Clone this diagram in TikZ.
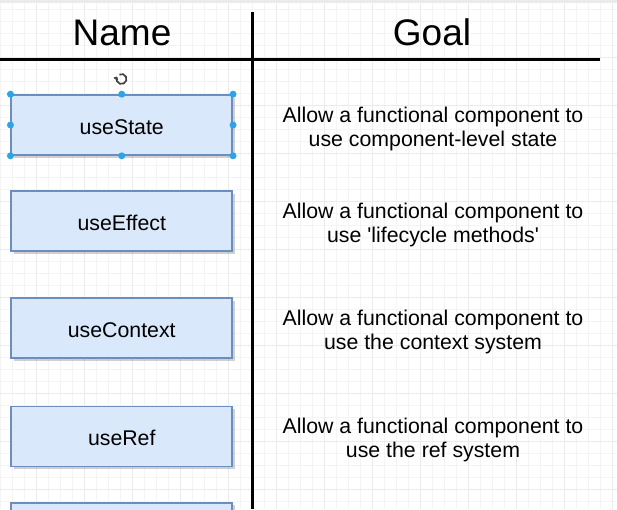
\documentclass[tikz,border=0pt]{standalone}
\usepackage{fontspec}
\setmainfont{Liberation Sans}[Ligatures=TeXOff]
\usetikzlibrary{shadows,arrows.meta}
\definecolor{boxfill}{HTML}{DAE8FC}
\definecolor{boxline}{HTML}{6C8EBF}
\definecolor{gridminor}{HTML}{F4F4F4}
\definecolor{gridmajor}{HTML}{EBEBEB}
\definecolor{handle}{HTML}{2DA3E8}
\definecolor{topband}{HTML}{EBEBEB}
\tikzset{
  hookbox/.style={rectangle, fill=boxfill, draw=boxline, line width=1.6pt,
    minimum width=221pt, minimum height=60pt, inner sep=0pt,
    text height=19pt, text depth=0pt,
    font=\fontsize{21.3}{24}\selectfont,
    drop shadow={shadow xshift=2.5pt, shadow yshift=-2.5pt, opacity=0.3, fill=black!60}},
  goaltext/.style={align=center, inner sep=0pt, font=\fontsize{21.3}{23.5}\selectfont},
  headtext/.style={anchor=base, inner sep=0pt, font=\fontsize{37}{40}\selectfont},
  rule/.style={line width=2.6pt, black},
  selhandle/.style={circle, fill=handle, inner sep=0pt, minimum size=7pt},
}
\begin{document}
\begin{tikzpicture}[x=1pt,y=-1pt]
\useasboundingbox (0,0) rectangle (617,509);
\clip (0,0) rectangle (617,509);
\fill[white] (0,0) rectangle (617,509);
% grid
\foreach \gx in {0,12,...,612} {\draw[gridminor, line width=0.8pt] (\gx,0) -- (\gx,509);}
\foreach \gy in {9.5,21.5,...,509} {\draw[gridminor, line width=0.8pt] (0,\gy) -- (617,\gy);}
\foreach \gx in {36,84,...,612} {\draw[gridmajor, line width=0.8pt] (\gx,0) -- (\gx,509);}
\foreach \gy in {57.5,105.5,...,509} {\draw[gridmajor, line width=0.8pt] (0,\gy) -- (617,\gy);}
\fill[topband] (0,0) rectangle (617,3);
% table rules
\coordinate (hl) at (0,59.5);
\coordinate (hr) at (600,59.5);
\coordinate (vt) at (252.5,12);
\coordinate (vb) at (252.5,509);
\draw[rule] (hl) -- (hr);
\draw[rule, line width=3pt] (vt) -- (vb);
% headers
\node[headtext] (hname) at (122,45) {Name};
\node[headtext] (hgoal) at (432,45) {Goal};
% boxes
\node[hookbox] (b1) at (121.75,125) {useState};
\node[hookbox] (b2) at (121.75,221) {useEffect};
\node[hookbox] (b3) at (121.75,328) {useContext};
\node[hookbox] (b4) at (121.75,436.3) {useRef};
\node[hookbox] (b5) at (121.75,532.7) {};
% goals
\node[goaltext] (g1) at (433,129) {Allow a functional component to\\use component-level state};
\node[goaltext] (g2) at (433,225) {Allow a functional component to\\use 'lifecycle methods'};
\node[goaltext] (g3) at (433,332) {Allow a functional component to\\use the context system};
\node[goaltext] (g4) at (433,440) {Allow a functional component to\\use the ref system};
% selection handles
\foreach \a in {north west,north,north east,west,east,south west,south,south east}
  {\node[selhandle] at (b1.\a) {};}
% rotate icon
\draw[line width=1.7pt, black!75, -{Straight Barb[length=1.8pt,width=3.6pt]}]
  (121.5,79) ++(-115:5) arc[start angle=-115, end angle=210, radius=5];
\end{tikzpicture}
\end{document}
